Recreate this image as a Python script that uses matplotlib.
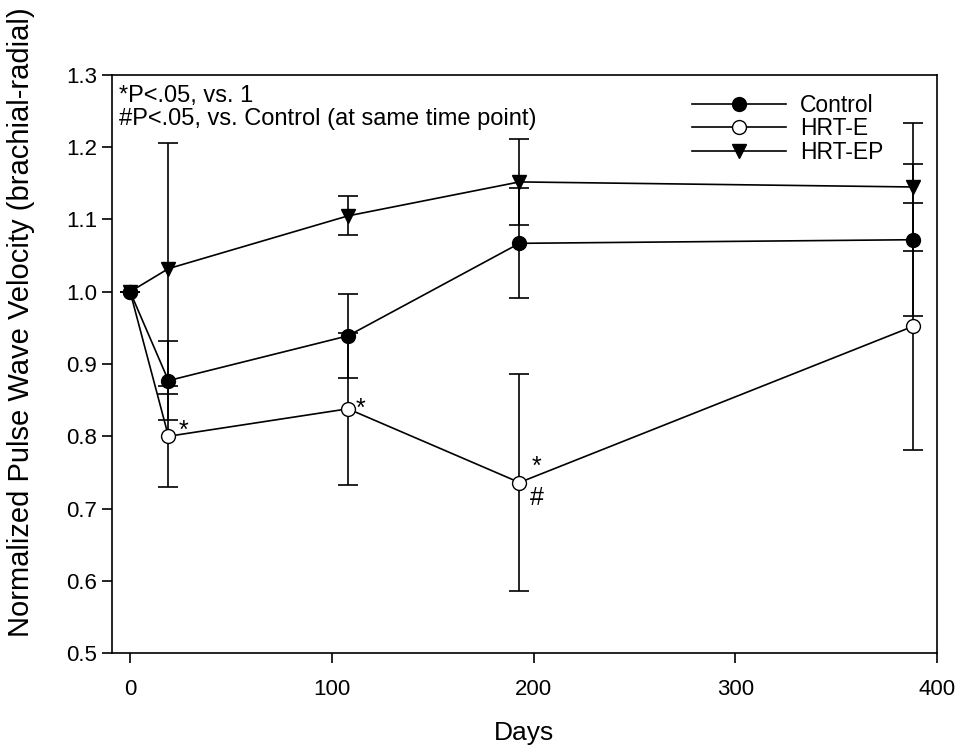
from matplotlib import pyplot as plt
from matplotlib.lines import Line2D

plt.rcParams['font.family'] = ['Liberation Sans', 'DejaVu Sans']

# datos
dias = [0, 19, 108, 193, 388]
control = [1.0, 0.877, 0.939, 1.067, 1.072]
control_err = [0, 0.055, 0.058, 0.076, 0.105]
hrt_e = [1.0, 0.800, 0.838, 0.736, 0.952]
hrt_e_err = [0, 0.070, 0.105, 0.150, 0.171]
hrt_ep = [1.0, 1.032, 1.105, 1.152, 1.145]
hrt_ep_err = [0, 0.174, 0.027, 0.059, 0.088]

fig = plt.figure(figsize=(9.61, 7.52), dpi=100)
ax = fig.add_axes([0.1165, 0.1316, 0.8585, 0.7687])

estilo = dict(color='black', lw=1.2, capsize=7, elinewidth=1.2, capthick=1.2, markersize=10)
ax.errorbar(dias, hrt_e, yerr=hrt_e_err, marker='o', mfc='white', mec='black', zorder=3, **estilo)
ax.errorbar(dias, hrt_ep, yerr=hrt_ep_err, marker='v', mfc='black', mec='black', zorder=3, **estilo)
ax.errorbar(dias, control, yerr=control_err, marker='o', mfc='black', mec='black', zorder=3, **estilo)

# marcas de significancia
ax.text(dias[1] + 5, hrt_e[1] + 0.008, '*', fontsize=18, va='center')
ax.text(dias[2] + 4, hrt_e[2] + 0.0, '*', fontsize=18, va='center')
ax.text(dias[3] + 6, hrt_e[3] + 0.022, '*', fontsize=18, va='center')
ax.text(dias[3] + 5, hrt_e[3] - 0.022, '#', fontsize=18, va='center')

ax.text(0.008, 0.982, '*P<.05, vs. 1\n#P<.05, vs. Control (at same time point)',
        transform=ax.transAxes, fontsize=17, va='top', ha='left', linespacing=1.05)

handles = [Line2D([], [], color='black', lw=1.2, marker='o', mfc='black', markersize=10),
           Line2D([], [], color='black', lw=1.2, marker='o', mfc='white', markersize=10),
           Line2D([], [], color='black', lw=1.2, marker='v', mfc='black', markersize=10)]
ax.legend(handles, ['Control', 'HRT-E', 'HRT-EP'], loc='upper right',
          bbox_to_anchor=(0.96, 1.003), frameon=False, fontsize=16.5,
          handlelength=4.1, labelspacing=0.02, handletextpad=0.6)

ax.set_xlim(-9, 400)
ax.set_ylim(0.5, 1.3)
ax.set_xticks([0, 100, 200, 300, 400])
ax.set_yticks([0.5, 0.6, 0.7, 0.8, 0.9, 1.0, 1.1, 1.2, 1.3])
ax.set_yticklabels([f'{v:.1f}' for v in ax.get_yticks()])
ax.tick_params(direction='out', length=7, width=1.2, labelsize=16, top=False, right=False)
ax.tick_params(axis='x', pad=12)
for s in ax.spines.values():
    s.set_linewidth(1.2)

ax.set_xlabel('Days', fontsize=19, labelpad=15)
ax.set_ylabel('Normalized Pulse Wave Velocity (brachial-radial)', fontsize=21)
ax.yaxis.set_label_coords(-0.093, 0.573)

fig.savefig('out.png', dpi=100)
